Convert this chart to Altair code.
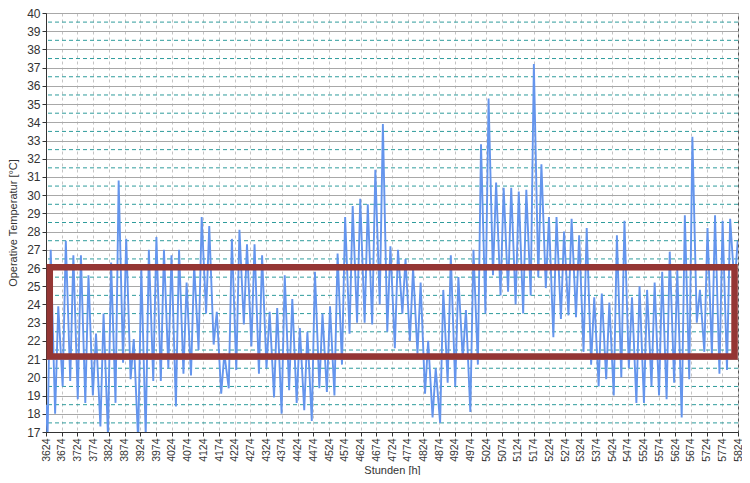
import altair as alt
import pandas as pd

# ---- data ----
START_HOUR = 3624
END_HOUR = 5824
start_value = 18.5

# daily maxima (afternoon peaks), one per day from hour 3624
daily_max = [27.0, 23.9, 27.5, 26.7, 26.7, 25.6, 22.4, 23.5, 26.3, 30.8,
             27.6, 22.1, 26.0, 27.0, 27.7, 27.0, 26.7, 27.0, 25.2, 26.2,
             28.8, 28.3, 23.6, 21.3, 27.6, 28.1, 27.3, 27.3, 26.7, 23.6,
             23.8, 25.6, 24.3, 22.7, 22.5, 25.8, 23.5, 23.9, 26.8, 28.8,
             29.4, 29.8, 29.5, 31.4, 33.9, 27.2, 27.0, 26.5, 26.0, 25.2,
             22.0, 20.5, 24.8, 26.7, 25.5, 23.7, 27.0, 32.8, 35.3, 30.7,
             30.4, 30.4, 30.2, 30.3, 37.2, 31.7, 28.8, 28.8, 28.0, 28.7,
             27.8, 28.2, 24.4, 24.6, 24.1, 27.8, 28.6, 24.4, 25.0, 24.8,
             25.2, 25.8, 26.9, 25.9, 28.9, 33.2, 24.8, 28.2, 28.9, 28.6,
             28.7, 27.5]

# daily minima (early-morning troughs)
daily_min = [16.8, 18.0, 19.5, 19.8, 18.8, 18.6, 19.0, 17.3, 16.8, 18.6,
             20.8, 19.9, 16.5, 16.8, 19.8, 19.8, 20.5, 18.4, 20.2, 20.1,
             21.5, 23.5, 21.8, 19.1, 19.4, 20.4, 22.9, 21.7, 20.2, 20.5,
             18.9, 18.0, 19.3, 18.6, 18.2, 17.6, 19.4, 19.2, 19.0, 20.7,
             22.4, 23.0, 23.0, 22.9, 24.0, 22.5, 21.6, 23.5, 22.0, 21.3,
             19.1, 17.8, 17.5, 19.7, 19.5, 21.0, 18.1, 20.7, 23.5, 25.6,
             24.5, 24.7, 24.0, 23.5, 24.5, 25.5, 24.9, 22.2, 23.2, 23.4,
             23.3, 21.4, 20.7, 19.5, 19.9, 19.0, 20.0, 20.5, 18.6, 18.6,
             19.5, 19.0, 18.8, 19.7, 17.8, 19.9, 23.0, 21.4, 21.2, 20.2,
             20.4, 25.0]

x_ticks = list(range(3624, 5825, 50))
y_ticks = list(range(17, 41))
y_half = [v + 0.5 for v in range(17, 40)]

# highlighted comfort band (red frame)
band_x = [3636]
band_x2 = [5813]
band_y = [21.15]
band_y2 = [26.05]

# ---- build tables ----
hours = [START_HOUR]
temps = [start_value]
for d, (lo, hi) in enumerate(zip(daily_min, daily_max)):
    for off, v in ((5, lo), (15, hi)):
        h = START_HOUR + 24 * d + off
        if h <= END_HOUR:
            hours.append(h)
            temps.append(v)

series = pd.DataFrame({"h": hours, "t": temps})
half_df = pd.DataFrame({"y": y_half})
band_df = pd.DataFrame({"x": band_x, "x2": band_x2, "y": band_y, "y2": band_y2})

xscale = alt.Scale(domain=[START_HOUR, END_HOUR], nice=False, zero=False)
yscale = alt.Scale(domain=[17, 40], nice=False, zero=False)

x_axis = alt.Axis(values=x_ticks, labelAngle=270, title="Stunden [h]", format="d",
                  grid=True, gridDash=[3, 3], gridColor="#c4c4c4",
                  labelFontSize=10.5, tickSize=4, labelPadding=2,
                  titlePadding=3, labelOverlap=False, labelBaseline="middle",
                  labelAlign="right", labelFlush=False)
y_axis = alt.Axis(values=y_ticks, title="Operative Temperatur [°C]", format="d",
                  grid=True, gridColor="#a8a8a8", labelFontSize=12,
                  tickSize=4, labelPadding=2, titlePadding=8, labelOverlap=False,
                  labelFlush=False)

half_rules = alt.Chart(half_df).mark_rule(
    color="#2f9c9c", strokeDash=[4, 3], strokeWidth=1
).encode(y=alt.Y("y:Q", scale=yscale, axis=y_axis))

line = alt.Chart(series).mark_line(
    color="#6495ed", strokeWidth=1.9, clip=True
).encode(
    x=alt.X("h:Q", scale=xscale, axis=x_axis),
    y=alt.Y("t:Q", scale=yscale, axis=y_axis),
)

frame = alt.Chart(band_df).mark_rect(
    fillOpacity=0, stroke="#943634", strokeWidth=6.5
).encode(
    x=alt.X("x:Q", scale=xscale, axis=x_axis), x2="x2:Q",
    y=alt.Y("y:Q", scale=yscale, axis=y_axis), y2="y2:Q",
)

chart = alt.layer(half_rules, line, frame).properties(
    width=692, height=419,
    autosize=alt.AutoSizeParams(type="none"),
    padding={"left": 38, "top": 5, "right": 4, "bottom": 43},
).configure_view(
    stroke="#555555", strokeWidth=1
).configure_axis(
    labelFont="Liberation Sans", titleFont="Liberation Sans",
    labelColor="#333333", titleColor="#333333",
    domainColor="#333333", tickColor="#333333",
    titleFontSize=11, titleFontWeight="normal", labelOverlap=False,
)

chart.save("out.html", embed_options={"renderer": "svg", "actions": False})
